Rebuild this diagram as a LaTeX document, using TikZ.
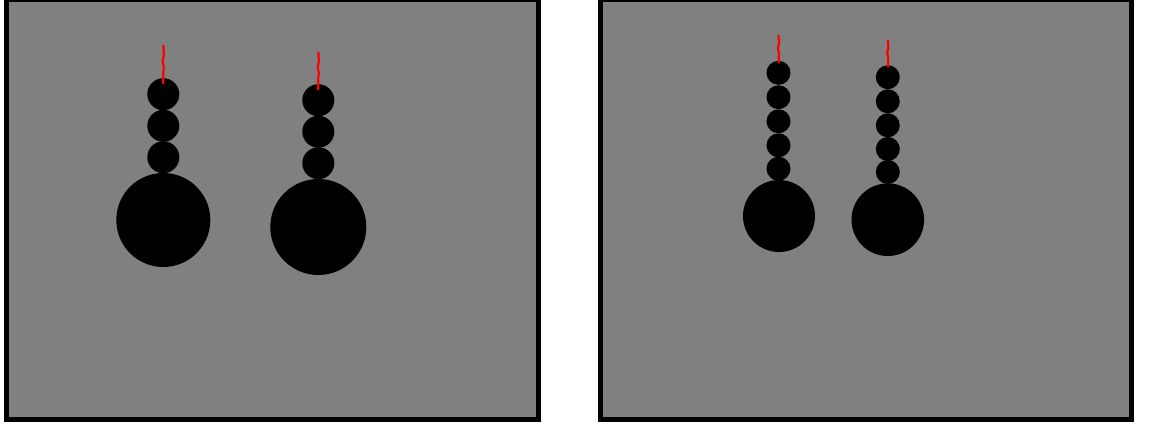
\documentclass[tikz,border=0pt]{standalone}
\usepackage{xcolor}
\usepackage{tikz}
\definecolor{panelgray}{HTML}{808080}
\tikzset{
  bead/.style={circle,fill=black,inner sep=0pt,minimum size=#1}
}

\begin{document}
\begin{tikzpicture}[x=1pt,y=-1pt,
    panel/.style={draw=black,line width=5pt,fill=panelgray},
    wick/.style={red,line width=2.2pt,line join=round,shorten >=10pt}]
    \useasboundingbox (0,0) rectangle (1163,426);
    % panels
    \draw [panel] (6.5,-0.5) rectangle (538,419.5);
    \draw [panel] (600.5,-0.5) rectangle (1131.5,419.5);
    % left panel, first chain
    \node [bead=32pt] at (163.3,94.2) (a1) {};
    \node [bead=32pt] at (163.3,125.8) (a2) {};
    \node [bead=32pt] at (163.3,157.2) (a3) {};
    \node [bead=94pt] at (163.3,220) (abig) {};
    \coordinate (atip) at (163.3,45);
    \draw [wick] (atip) -- (163.9,55) -- (162.7,61) -- (163.8,67) -- (163.3,72) -- (a1.center);
    % left panel, second chain
    \node [bead=32pt] at (318.3,100.2) (b1) {};
    \node [bead=32pt] at (318.3,131.7) (b2) {};
    \node [bead=32pt] at (318.3,163.2) (b3) {};
    \node [bead=96pt] at (318.3,227) (bbig) {};
    \coordinate (btip) at (318.3,51.7);
    \draw [wick] (btip) -- (318.9,61) -- (317.7,67) -- (318.8,73) -- (318.3,78) -- (b1.center);
    % right panel, first chain
    \node [bead=24pt] at (778.5,72.8) (c1) {};
    \node [bead=24pt] at (778.5,97.2) (c2) {};
    \node [bead=24pt] at (778.5,121.3) (c3) {};
    \node [bead=24pt] at (778.5,145.3) (c4) {};
    \node [bead=24pt] at (778.5,168.7) (c5) {};
    \node [bead=72pt] at (779,216) (cbig) {};
    \coordinate (ctip) at (778.5,35);
    \draw [wick] (ctip) -- (779.1,43) -- (777.9,48) -- (778.9,53) -- (c1.center);
    % right panel, second chain
    \node [bead=24pt] at (887.8,77.2) (d1) {};
    \node [bead=24pt] at (887.8,101.3) (d2) {};
    \node [bead=24pt] at (887.8,125.3) (d3) {};
    \node [bead=24pt] at (887.8,149) (d4) {};
    \node [bead=24pt] at (887.8,172) (d5) {};
    \node [bead=72.6pt] at (887.8,219.7) (dbig) {};
    \coordinate (dtip) at (887.8,40);
    \draw [wick] (dtip) -- (888.4,48) -- (887.2,53) -- (888.2,58) -- (d1.center);
\end{tikzpicture}
\end{document}
